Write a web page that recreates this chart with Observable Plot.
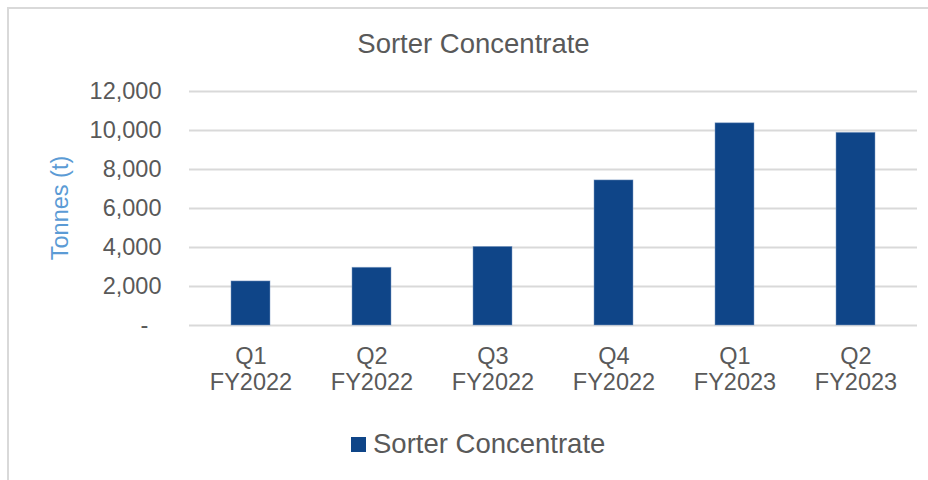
<!DOCTYPE html>
<html><head><meta charset="utf-8">
<script src="https://cdn.jsdelivr.net/npm/d3@7"></script>
<script src="https://cdn.jsdelivr.net/npm/@observablehq/plot@0.6"></script>
<style>
body{margin:0;background:#fff;}
#chart{position:relative;width:928px;height:480px;overflow:hidden;background:#fff;font-family:"Liberation Sans",Arial,sans-serif;color:#595959;}
#frame{position:absolute;left:7px;top:7px;width:960px;height:520px;border:2px solid #d9d9d9;box-sizing:border-box;}
#plot{position:absolute;left:0;top:0;}
#title{position:absolute;left:0;top:30px;width:947px;text-align:center;font-size:27.5px;line-height:1;white-space:nowrap;}
#ytitle{position:absolute;left:60.5px;top:208px;transform:translate(-50%,-50%) rotate(-90deg);font-size:23.5px;line-height:1;color:#5b9bd5;white-space:nowrap;}
#legend{position:absolute;left:351px;top:430px;font-size:27.5px;line-height:1;white-space:nowrap;}
#legend .sw{position:absolute;left:0;top:7px;width:15px;height:15px;}
#legend .lt{position:absolute;left:22px;top:0;}
</style></head>
<body>
<div id="chart">
  <div id="frame"></div>
  <div id="plot"></div>
  <div id="title"></div>
  <div id="ytitle"></div>
  <div id="legend"><div class="sw"></div><div class="lt"></div></div>
</div>
<script>
const chartTitle = "Sorter Concentrate";
const yAxisTitle = "Tonnes (t)";
const seriesName = "Sorter Concentrate";
const quarters = ["Q1", "Q2", "Q3", "Q4", "Q1", "Q2"];
const fiscalYears = ["FY2022", "FY2022", "FY2022", "FY2022", "FY2023", "FY2023"];
const tonnes = [2260, 2960, 4030, 7440, 10370, 9880];
const yTicks = [0, 2000, 4000, 6000, 8000, 10000, 12000];
const barColor = "#0f4588";

const labels = quarters.map((q, i) => `${q}\n${fiscalYears[i]}`);
const data = labels.map((label, i) => ({label, value: tonnes[i]}));

const fmt = d3.format(",");
const plot = Plot.plot({
  width: 928,
  height: 480,
  marginTop: 91,
  marginBottom: 155,
  marginLeft: 189,
  marginRight: 11,
  style: {fontFamily: '"Liberation Sans", Arial, sans-serif', fontSize: "23.5px", color: "#595959", background: "transparent"},
  x: {type: "band", domain: labels, paddingInner: 0.675, paddingOuter: 0.3375, label: null},
  y: {domain: [0, 12000], label: null},
  marks: [
    Plot.ruleY(yTicks, {stroke: "#d9d9d9", strokeWidth: 2}),
    Plot.barY(data, {x: "label", y: "value", fill: barColor, stroke: "#7f9cc4", strokeWidth: 0.8, strokeOpacity: 0.6}),
    Plot.axisX({tickSize: 0, tickPadding: 20, fontSize: 23.5, lineHeight: 1.1, label: null, fill: "#595959"}),
    Plot.axisY({ticks: yTicks, tickSize: 0, tickPadding: 28, fontSize: 23.5, label: null, fill: "#595959",
      tickFormat: d => d === 0 ? "-\u00a0\u00a0" : fmt(d)})
  ]
});
document.getElementById("plot").appendChild(plot);
document.getElementById("title").textContent = chartTitle;
document.getElementById("ytitle").textContent = yAxisTitle;
document.querySelector("#legend .sw").style.background = barColor;
document.querySelector("#legend .lt").textContent = seriesName;
</script>
</body></html>
